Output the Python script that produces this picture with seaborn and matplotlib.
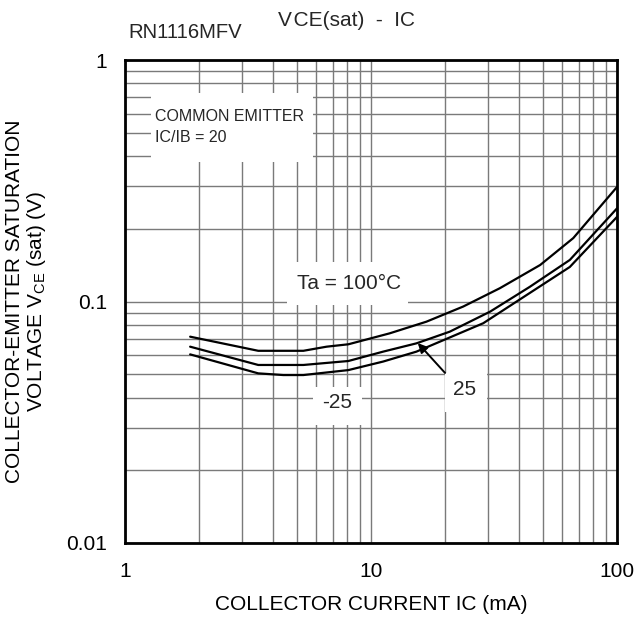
import numpy as np
import pandas as pd
import matplotlib
matplotlib.use("Agg")
import matplotlib.pyplot as plt
from matplotlib.patches import Rectangle
from matplotlib.ticker import FixedLocator, FixedFormatter, NullFormatter, LogLocator
import seaborn as sns

# ---- data ----
ic_100 = [1.84, 3.48, 5.31, 6.6, 8.09, 11.9, 16.8, 23.7, 33.4, 48.7, 66.4, 100]
vce_100 = [0.0715, 0.0625, 0.0625, 0.065, 0.0665, 0.0738, 0.0825, 0.0953, 0.1135, 0.1416, 0.183, 0.298]
ic_25 = [1.84, 3.48, 5.31, 8.09, 11.2, 15.3, 20.9, 30.5, 44.2, 64.3, 100]
vce_25 = [0.065, 0.0546, 0.0546, 0.0567, 0.062, 0.0671, 0.075, 0.0908, 0.115, 0.1486, 0.243]
ic_m25 = [1.84, 3.48, 4.4, 5.31, 8.09, 11.2, 15.3, 28.6, 39.1, 64.3, 100]
vce_m25 = [0.0604, 0.0504, 0.0496, 0.0496, 0.052, 0.0564, 0.062, 0.0813, 0.1, 0.139, 0.224]

x_ticks = [1, 10, 100]
x_tick_labels = ["1", "10", "100"]
y_ticks = [0.01, 0.1, 1]
y_tick_labels = ["0.01", "0.1", "1"]

df = pd.concat([
    pd.DataFrame({"ic": ic_100, "vce": vce_100, "ta": "100"}),
    pd.DataFrame({"ic": ic_25, "vce": vce_25, "ta": "25"}),
    pd.DataFrame({"ic": ic_m25, "vce": vce_m25, "ta": "-25"}),
], ignore_index=True)

sns.set_theme(style="white")
plt.rcParams["font.family"] = ["Liberation Sans", "DejaVu Sans"]
plt.rcParams["mathtext.fontset"] = "custom"
plt.rcParams["mathtext.rm"] = "Liberation Sans"

fig = plt.figure(figsize=(6.35, 6.2), dpi=100)
ax = fig.add_axes([125/635, 1-543/620, 492/635, 483/620])
ax.set_axisbelow(True)

sns.lineplot(data=df, x="ic", y="vce", hue="ta", palette=["black"]*3,
             estimator=None, sort=False, legend=False, lw=1.6, ax=ax, zorder=2)

ax.set_xscale("log")
ax.set_yscale("log")
ax.set_xlim(1, 100)
ax.set_ylim(0.01, 1)

ax.xaxis.set_major_locator(FixedLocator(x_ticks))
ax.xaxis.set_major_formatter(FixedFormatter(x_tick_labels))
ax.yaxis.set_major_locator(FixedLocator(y_ticks))
ax.yaxis.set_major_formatter(FixedFormatter(y_tick_labels))
ax.xaxis.set_minor_locator(LogLocator(base=10, subs=np.arange(2, 10)))
ax.yaxis.set_minor_locator(LogLocator(base=10, subs=np.arange(2, 10)))
ax.xaxis.set_minor_formatter(NullFormatter())
ax.yaxis.set_minor_formatter(NullFormatter())

ax.grid(which="both", color="#7a7a7a", lw=1.0)
ax.tick_params(which="both", length=0, labelsize=15, colors="black")
ax.tick_params(axis="x", pad=14)
ax.tick_params(axis="y", pad=13)
for s in ax.spines.values():
    s.set_color("black")
    s.set_linewidth(2)

ax.set_xlabel("COLLECTOR CURRENT IC (mA)", fontsize=15, labelpad=10, color="black")
ax.set_ylabel("COLLECTOR-EMITTER SATURATION\nVOLTAGE V$_{\\mathregular{CE}}$ (sat) (V)",
              fontsize=15, color="black", linespacing=1.05)
ax.yaxis.set_label_coords(-0.157, 0.5)

# white label boxes
def box(x0, x1, y0, y1):
    ax.add_patch(Rectangle((x0, y0), x1-x0, y1-y0, transform=ax.transAxes,
                           facecolor="white", edgecolor="none", zorder=1))

box(0.053, 0.382, 0.789, 0.932)
box(0.329, 0.575, 0.493, 0.582)
box(0.382, 0.482, 0.244, 0.323)
box(0.650, 0.736, 0.271, 0.352)

ax.text(0.061, 0.882, "COMMON EMITTER", transform=ax.transAxes, fontsize=11.5,
        ha="left", va="center", zorder=3)
ax.text(0.061, 0.839, "IC/IB = 20", transform=ax.transAxes, fontsize=11.5,
        ha="left", va="center", zorder=3)
ax.text(0.455, 0.538, "Ta = 100°C", transform=ax.transAxes, fontsize=15,
        ha="center", va="center", zorder=3)
ax.text(0.431, 0.290, "-25", transform=ax.transAxes, fontsize=15,
        ha="center", va="center", zorder=3)
ax.text(0.691, 0.317, "25", transform=ax.transAxes, fontsize=15,
        ha="center", va="center", zorder=3)
ax.annotate("", xy=(15.5, 0.0673), xytext=(20.0, 0.0506),
            arrowprops=dict(arrowstyle="-|>", color="black", lw=1.4,
                            mutation_scale=14, shrinkA=0, shrinkB=0), zorder=3)

fig.text(128/635, 1-33/620, "RN1116MFV", fontsize=14.6, ha="left", va="center")
fig.text(278/635, 1-21/620, "V\u200aCE(sat)  -  IC", fontsize=15, ha="left", va="center")

fig.savefig("out.png", dpi=100, facecolor="white")
